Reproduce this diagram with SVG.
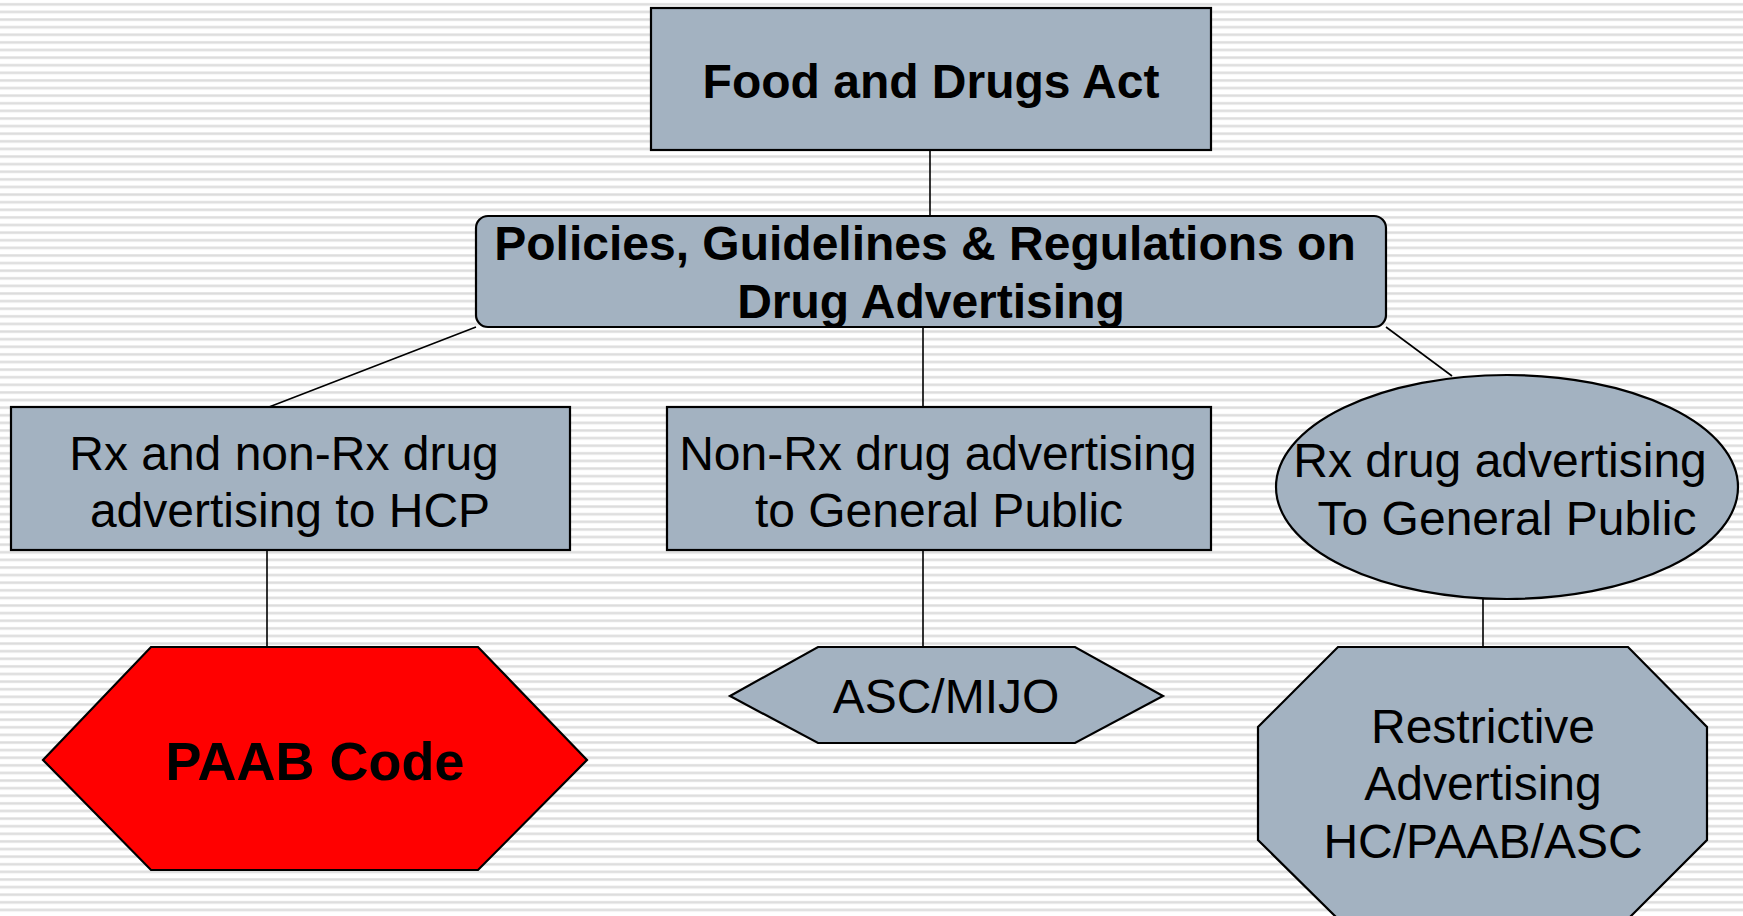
<svg xmlns="http://www.w3.org/2000/svg" width="1743" height="916" viewBox="0 0 1743 916">
  <defs>
    <!-- ruled-paper backdrop -->
    <pattern id="rules" patternUnits="userSpaceOnUse" x="0" y="0" width="40" height="7.61">
      <rect x="0" y="2.9" width="40" height="3" fill="#ececec"/>
      <rect x="0" y="3.4" width="40" height="1.8" fill="#dcdcdc"/>
    </pattern>
  </defs>
  <style>
    .shape { fill: #a3b2c1; stroke: #000; stroke-width: 2.2; }
    .red { fill: #ff0000; stroke: #000; stroke-width: 2.2; }
    .wire { stroke: #000; stroke-width: 1.6; fill: none; }
    .bold { font-family: "Liberation Sans", Arial, sans-serif; font-weight: bold; font-size: 48px; fill: #000; text-anchor: middle; }
    .reg { font-family: "Liberation Sans", Arial, sans-serif; font-size: 48px; fill: #000; text-anchor: middle; }
  </style>

  <rect x="0" y="0" width="1743" height="916" fill="#ffffff"/>
  <rect x="0" y="0" width="1743" height="916" fill="url(#rules)"/>

  <g id="connectors">
    <line class="wire" x1="930" y1="150" x2="930" y2="216"/>
    <line class="wire" x1="476" y1="327" x2="269" y2="407"/>
    <line class="wire" x1="923" y1="327" x2="923" y2="407"/>
    <line class="wire" x1="1386" y1="327" x2="1452" y2="376"/>
    <line class="wire" x1="267" y1="550" x2="267" y2="647"/>
    <line class="wire" x1="923" y1="550" x2="923" y2="647"/>
    <line class="wire" x1="1483" y1="599" x2="1483" y2="647"/>
  </g>

  <g id="food-and-drugs-act">
    <rect class="shape" x="651" y="8" width="560" height="142"/>
    <text class="bold" x="931" y="98">Food and Drugs Act</text>
  </g>

  <g id="policies">
    <rect class="shape" x="476" y="216" width="910" height="111" rx="12" ry="12"/>
    <text class="bold" x="925" y="260">Policies, Guidelines &amp; Regulations on</text>
    <text class="bold" x="931" y="318">Drug Advertising</text>
  </g>

  <g id="hcp-advertising">
    <rect class="shape" x="11" y="407" width="559" height="143"/>
    <text class="reg" x="284" y="470">Rx and non-Rx drug</text>
    <text class="reg" x="290" y="527">advertising to HCP</text>
  </g>

  <g id="non-rx-public">
    <rect class="shape" x="667" y="407" width="544" height="143"/>
    <text class="reg" x="938" y="470">Non-Rx drug advertising</text>
    <text class="reg" x="939" y="527">to General Public</text>
  </g>

  <g id="rx-public">
    <ellipse class="shape" cx="1507" cy="487" rx="231" ry="112"/>
    <text class="reg" x="1500" y="477">Rx drug advertising</text>
    <text class="reg" x="1507" y="535">To General Public</text>
  </g>

  <g id="paab-code">
    <polygon class="red" points="151,647 478,647 587,760 478,870 151,870 43,760"/>
    <text class="bold" x="315" y="780" style="font-size:54px">PAAB Code</text>
  </g>

  <g id="asc-mijo">
    <polygon class="shape" points="818,647 1075,647 1163,696 1075,743 818,743 730,696"/>
    <text class="reg" x="946" y="713">ASC/MIJO</text>
  </g>

  <g id="restrictive-advertising">
    <polygon class="shape" points="1338,647 1628,647 1707,727 1707,840 1628,919 1338,919 1258,840 1258,727"/>
    <text class="reg" x="1483" y="743">Restrictive</text>
    <text class="reg" x="1483" y="800">Advertising</text>
    <text class="reg" x="1483" y="858">HC/PAAB/ASC</text>
  </g>
</svg>
